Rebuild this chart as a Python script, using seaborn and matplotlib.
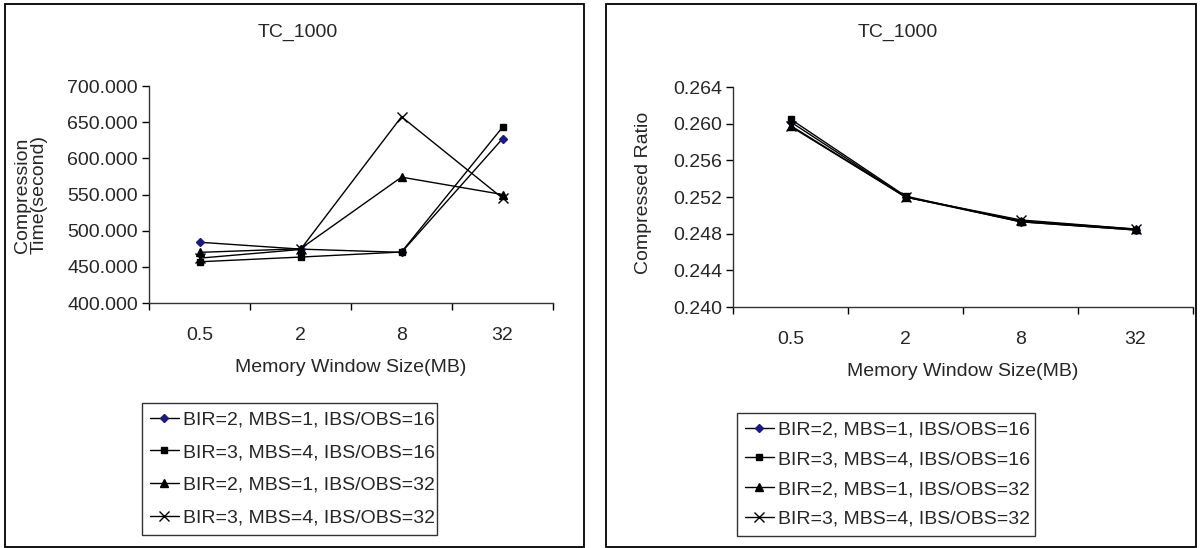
import matplotlib
matplotlib.use("Agg")
import matplotlib.pyplot as plt
import seaborn as sns
import pandas as pd
from matplotlib.ticker import FixedLocator, FormatStrFormatter, NullFormatter
from matplotlib.patches import Rectangle

# ---- data ----
mem_sizes = ["0.5", "2", "8", "32"]
series_names = [
    "BIR=2, MBS=1, IBS/OBS=16",
    "BIR=3, MBS=4, IBS/OBS=16",
    "BIR=2, MBS=1, IBS/OBS=32",
    "BIR=3, MBS=4, IBS/OBS=32",
]
time_s1 = [484.0, 474.5, 470.0, 627.0]
time_s2 = [457.0, 463.5, 470.5, 643.0]
time_s3 = [470.0, 475.0, 574.0, 550.0]
time_s4 = [462.0, 474.0, 657.5, 545.0]
ratio_s1 = [0.2602, 0.2520, 0.2493, 0.2484]
ratio_s2 = [0.2605, 0.2521, 0.2493, 0.2484]
ratio_s3 = [0.2598, 0.2520, 0.2494, 0.2485]
ratio_s4 = [0.2597, 0.2520, 0.2495, 0.2485]
title_text = "TC_1000"

markers = ["D", "s", "^", "x"]
mfc = ["#1a1a80", "black", "black", "black"]
msizes = [4.5, 4.5, 5.5, 6.5]

sns.set_theme(style="white")
plt.rcParams["font.family"] = ["Liberation Sans", "DejaVu Sans"]
FS = 14

W, H = 1201, 548
fig = plt.figure(figsize=(W / 100, H / 100), dpi=100)


def px_axes(x0, y0, x1, y1):
    return fig.add_axes([x0 / W, 1 - y1 / H, (x1 - x0) / W, (y1 - y0) / H])


def draw(ax, vals, ylim, yticks, fmt):
    for i, (name, v) in enumerate(zip(series_names, vals)):
        df = pd.DataFrame({"pos": list(range(len(mem_sizes))), "val": v})
        sns.lineplot(data=df, x="pos", y="val", ax=ax, color="black", lw=1.0,
                     marker=markers[i], markersize=msizes[i],
                     markerfacecolor=mfc[i], markeredgecolor=mfc[i] if i == 0 else "black",
                     markeredgewidth=1.0, label=name, legend=False)
    ax.set_xlim(-0.5, len(mem_sizes) - 0.5)
    ax.set_ylim(*ylim)
    ax.xaxis.set_major_locator(FixedLocator([i - 0.5 for i in range(len(mem_sizes) + 1)]))
    ax.xaxis.set_major_formatter(NullFormatter())
    ax.xaxis.set_minor_locator(FixedLocator(list(range(len(mem_sizes)))))
    ax.set_xticklabels(mem_sizes, minor=True)
    ax.tick_params(axis="x", which="minor", length=0, pad=17, labelsize=FS)
    ax.tick_params(axis="x", which="major", length=5, width=1, direction="out", color="black", bottom=True)
    ax.set_yticks(yticks)
    ax.yaxis.set_major_formatter(FormatStrFormatter(fmt))
    ax.tick_params(axis="y", length=5, width=1, direction="out", color="black", labelsize=FS, pad=3, left=True)
    for s in ["top", "right"]:
        ax.spines[s].set_visible(False)
    for s in ["left", "bottom"]:
        ax.spines[s].set_color("#333333")
        ax.spines[s].set_linewidth(1.0)
    ax.set_xlabel("")
    ax.set_ylabel("")
    ax.set_facecolor("white")


# left panel
ax1 = px_axes(149, 86, 553, 303)
draw(ax1, [time_s1, time_s2, time_s3, time_s4], (400, 700),
     [400, 450, 500, 550, 600, 650, 700], "%.3f")
# right panel
ax2 = px_axes(733, 87, 1193, 307)
draw(ax2, [ratio_s1, ratio_s2, ratio_s3, ratio_s4], (0.240, 0.264),
     [0.240, 0.244, 0.248, 0.252, 0.256, 0.260, 0.264], "%.3f")

# frames
fig.patches.append(Rectangle((5 / W, 1 - 547 / H), (584 - 5) / W, (547 - 4) / H,
                             transform=fig.transFigure, fill=False, ec="black", lw=1.3))
fig.patches.append(Rectangle((606 / W, 1 - 547 / H), (1196 - 606) / W, (547 - 4) / H,
                             transform=fig.transFigure, fill=False, ec="black", lw=1.3))

# titles and labels
fig.text(298 / W, 1 - 32 / H, title_text, ha="center", va="center", fontsize=FS)
fig.text(898 / W, 1 - 32 / H, title_text, ha="center", va="center", fontsize=FS)
fig.text(351 / W, 1 - 368 / H, "Memory Window Size(MB)", ha="center", va="center", fontsize=FS)
fig.text(963 / W, 1 - 372 / H, "Memory Window Size(MB)", ha="center", va="center", fontsize=FS)
fig.text(31 / W, 1 - 195 / H, "Compression\nTime(second)", ha="center", va="center",
         rotation=90, fontsize=FS, linespacing=1.0)
fig.text(643 / W, 1 - 193 / H, "Compressed Ratio", ha="center", va="center",
         rotation=90, fontsize=FS)

# legends
for ax, (lx0, ly0, lx1, ly1), ls in [(ax1, (142, 403, 437, 537), 0.78),
                                     (ax2, (737, 413, 1035, 536), 0.63)]:
    h, l = ax.get_legend_handles_labels()
    leg = fig.legend(h, l, loc="upper left",
                     bbox_to_anchor=(lx0 / W, 1 - ly1 / H, (lx1 - lx0) / W, (ly1 - ly0) / H),
                     mode="expand", fontsize=FS, frameon=True, fancybox=False, shadow=False,
                     handlelength=1.5, handletextpad=0.2, labelspacing=ls,
                     borderpad=0.4, borderaxespad=0.0)
    leg.get_frame().set_edgecolor("black")
    leg.get_frame().set_linewidth(1.0)

fig.savefig("out.png", dpi=100, facecolor="white")
